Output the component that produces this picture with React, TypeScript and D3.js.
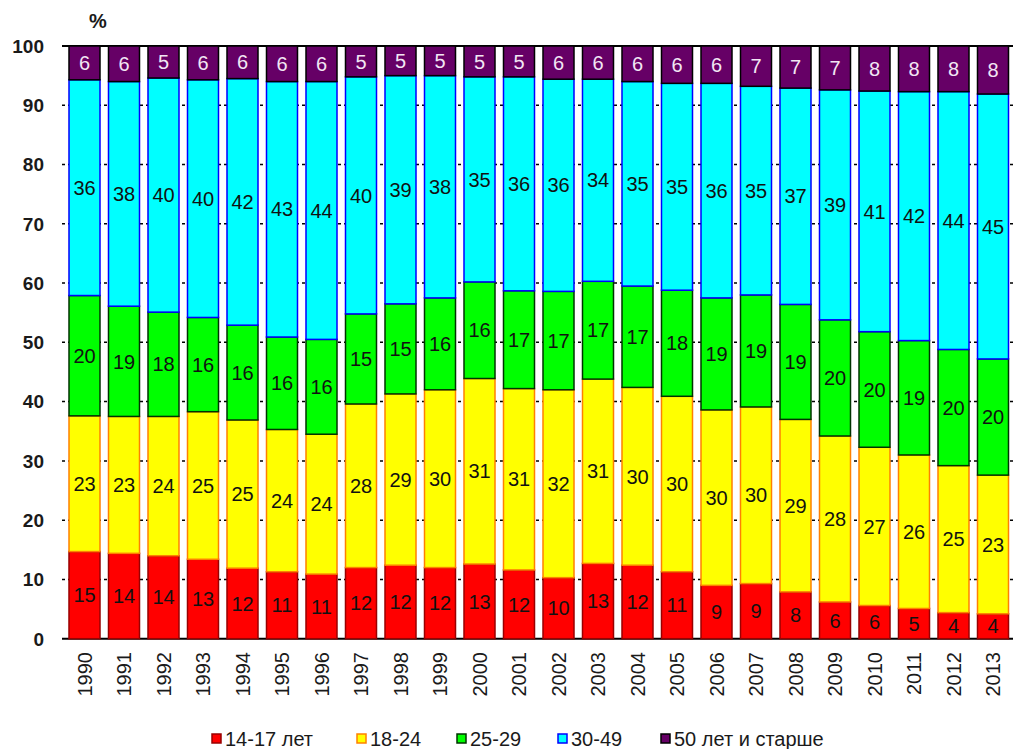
import React from 'react';
import * as d3 from 'd3';

const years = [
  '1990', '1991', '1992', '1993', '1994', '1995', '1996', '1997', '1998', '1999', '2000', '2001',
  '2002', '2003', '2004', '2005', '2006', '2007', '2008', '2009', '2010', '2011', '2012', '2013',
];
const age14_17 = [14.7, 14.4, 14.0, 13.4, 11.9, 11.3, 10.9, 12.0, 12.4, 12.0, 12.6, 11.6, 10.3, 12.7, 12.4, 11.3, 9.0, 9.3, 7.9, 6.2, 5.6, 5.1, 4.4, 4.2];
const age18_24 = [22.9, 23.1, 23.5, 24.9, 25.0, 24.0, 23.6, 27.6, 28.9, 30.0, 31.3, 30.6, 31.7, 31.1, 30.0, 29.6, 29.6, 29.8, 29.1, 28.0, 26.7, 25.9, 24.8, 23.4];
const age25_29 = [20.3, 18.6, 17.6, 15.9, 16.0, 15.6, 16.0, 15.2, 15.2, 15.5, 16.3, 16.5, 16.6, 16.5, 17.1, 17.9, 18.9, 18.9, 19.4, 19.6, 19.5, 19.3, 19.6, 19.6];
const age30_49 = [36.4, 37.9, 39.5, 40.1, 41.6, 43.1, 43.5, 40.0, 38.5, 37.5, 34.6, 36.1, 35.8, 34.1, 34.5, 34.9, 36.2, 35.2, 36.5, 38.8, 40.6, 42.0, 43.5, 44.7];
const age50plus = [5.7, 6.0, 5.4, 5.7, 5.5, 6.0, 6.0, 5.2, 5.0, 5.0, 5.2, 5.2, 5.6, 5.6, 6.0, 6.3, 6.3, 6.8, 7.1, 7.4, 7.6, 7.7, 7.7, 8.1];
const seriesNames = ['14-17 лет', '18-24', '25-29', '30-49', '50 лет и старше'];
const yTicks = [0, 10, 20, 30, 40, 50, 60, 70, 80, 90, 100];

const fills = ['#FF0000', '#FFFF00', '#00FF00', '#00FFFF', '#660066'];
const strokes = ['#990000', '#FF8000', '#003300', '#0000FF', '#000000'];
const labelColors = ['#111', '#111', '#111', '#111', '#F2E6F4'];
const legendX = [212, 357, 457, 558, 661];

const W = 1014;
const H = 749;
const font = "Arial, 'Liberation Sans', sans-serif";

const App = () => {
  const seriesData = [age14_17, age18_24, age25_29, age30_49, age50plus];
  const rows = years.map((y, i) => {
    const r: any = { year: y };
    seriesData.forEach((s, k) => (r['s' + k] = s[i]));
    return r;
  });
  const keys = seriesData.map((_, k) => 's' + k);
  const stacked = d3.stack<any>().keys(keys)(rows);

  const x = d3
    .scaleBand()
    .domain(years)
    .range([64.75, 1012.75])
    .paddingInner(0.215)
    .paddingOuter(0.1075);
  const y = d3.scaleLinear().domain([0, 100]).range([638.7, 46]);

  return (
    <svg
      width={W}
      height={H}
      style={{ position: 'absolute', left: 0, top: 0, background: '#fff' }}
      fontFamily={font}>
      {/* grid */}
      {yTicks.map(t => (
        <line
          key={'g' + t}
          x1={62}
          x2={1013}
          y1={y(t)}
          y2={y(t)}
          stroke="#000"
          strokeWidth={t === 0 || t === 100 ? 2 : 1.5}
          strokeDasharray={t === 0 || t === 100 ? undefined : '3 3'}
        />
      ))}
      {yTicks.map(t => (
        <text
          key={'t' + t}
          x={44}
          y={y(t)}
          dy="0.36em"
          textAnchor="end"
          fontSize={19}
          fontWeight="bold"
          fill="#1a1a1a">
          {t}
        </text>
      ))}
      <text x={98} y={28} textAnchor="middle" fontSize={20} fontWeight="bold" fill="#1a1a1a">
        %
      </text>

      {/* bars */}
      {stacked.map((layer, k) => (
        <g key={'l' + k}>
          {layer.map((d, i) => (
            <rect
              key={i}
              x={x(years[i])}
              y={y(d[1])}
              width={x.bandwidth()}
              height={y(d[0]) - y(d[1])}
              fill={fills[k]}
              stroke={strokes[k]}
              strokeWidth={1.5}
            />
          ))}
        </g>
      ))}

      {/* labels */}
      {stacked.map((layer, k) => (
        <g key={'lb' + k}>
          {layer.map((d, i) => (
            <text
              key={i}
              x={x(years[i]) + x.bandwidth() / 2}
              y={(y(d[0]) + y(d[1])) / 2}
              dy="0.36em"
              textAnchor="middle"
              fontSize={20}
              fill={labelColors[k]}>
              {Math.round(seriesData[k][i])}
            </text>
          ))}
        </g>
      ))}

      {/* x labels */}
      {years.map(yr => {
        const cx = x(yr) + x.bandwidth() / 2 + 7;
        return (
          <text
            key={yr}
            transform={`translate(${cx},652) rotate(-90)`}
            textAnchor="end"
            fontSize={20}
            fill="#1a1a1a">
            {yr}
          </text>
        );
      })}

      {/* legend */}
      {seriesNames.map((n, k) => (
        <g key={n} transform={`translate(${legendX[k]},734)`}>
          <rect x={0} y={0} width={9} height={9} fill={fills[k]} stroke={strokes[k]} strokeWidth={1.5} />
          <text x={13} y={5} dy="0.35em" fontSize={20} fill="#1a1a1a">
            {n}
          </text>
        </g>
      ))}
    </svg>
  );
};

export default App;
